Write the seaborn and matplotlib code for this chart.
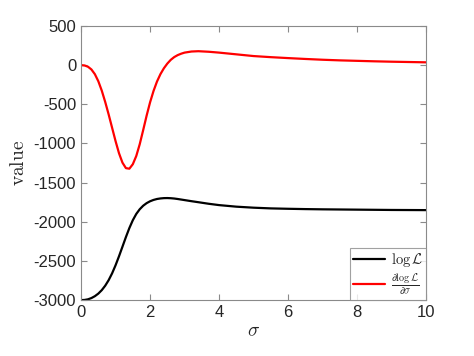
"""
Log-likelihood and its derivative against sigma, MATLAB-style figure.
"""

import matplotlib
matplotlib.use("Agg")
import matplotlib.pyplot as plt
import pandas as pd
import seaborn as sns

# Values
SIGMA = [0, 0.1, 0.2, 0.3, 0.4, 0.5, 0.6, 0.7, 0.8, 0.9,
         1.0, 1.1, 1.2, 1.3, 1.4, 1.5, 1.6, 1.7, 1.8, 1.9,
         2.0, 2.1, 2.2, 2.3, 2.4, 2.5, 2.6, 2.7, 2.8, 2.9,
         3.0, 3.2, 3.4, 3.7, 4.0, 4.5, 5.0, 5.5, 6.0, 6.5,
         7.0, 7.5, 8.0, 8.5, 9.0, 9.5, 10.0]
LOG_L = [-3000, -2998, -2990, -2974, -2950, -2917, -2873, -2816, -2745, -2658,
         -2555, -2440, -2318, -2195, -2080, -1980, -1900, -1840, -1795, -1762,
         -1738, -1721, -1709, -1702, -1698, -1697, -1699, -1703, -1709, -1716,
         -1723, -1737, -1750, -1770, -1787, -1807, -1820, -1829, -1834, -1838,
         -1841, -1843, -1845, -1847, -1849, -1850, -1851]
DLOG_L = [0, -4, -20, -55, -115, -205, -325, -470, -630, -800,
          -970, -1125, -1245, -1315, -1322, -1265, -1160, -1010, -830, -645,
          -475, -330, -210, -115, -40, 20, 68, 103, 128, 146,
          160, 174, 178, 171, 160, 138, 116, 102, 90, 79,
          69, 61, 55, 49, 44, 40, 36]

SERIES = [r"$\log\mathcal{L}$", r"$\frac{\partial\log\mathcal{L}}{\partial\sigma}$"]
COLORS = ["black", "red"]
X_TICKS = [0, 2, 4, 6, 8, 10]
Y_TICKS = [-3000, -2500, -2000, -1500, -1000, -500, 0, 500]


if __name__ == "__main__":

    sns.set_style("ticks")
    plt.rcParams["font.family"] = ["Liberation Sans", "DejaVu Sans"]
    plt.rcParams["mathtext.fontset"] = "cm"
    plt.rcParams["axes.unicode_minus"] = False

    df = pd.DataFrame({
        "sigma": SIGMA * 2,
        "value": LOG_L + DLOG_L,
        "series": [SERIES[0]] * len(SIGMA) + [SERIES[1]] * len(SIGMA),
    })

    fig = plt.figure(figsize=(4.74, 3.56), dpi=100)
    ax = fig.add_axes([0.171, 0.157, 0.728, 0.770])

    sns.lineplot(
        x="sigma",
        y="value",
        hue="series",
        hue_order=SERIES,
        palette=COLORS,
        data=df,
        estimator=None,
        linewidth=1.6,
        ax=ax,
    )

    ax.set_xlim(0, 10)
    ax.set_ylim(-3000, 500)
    ax.set_xticks(X_TICKS)
    ax.set_yticks(Y_TICKS)
    ax.set_xlabel(r"$\sigma$", fontsize=14, labelpad=2)
    ax.set_ylabel(r"$\mathrm{value}$", fontsize=14, labelpad=4)

    for spine in ax.spines.values():
        spine.set_visible(True)
        spine.set_color("#8a8a8a")
        spine.set_linewidth(0.8)
    ax.tick_params(direction="in", length=4, width=0.8, color="#8a8a8a",
                   labelsize=12, labelcolor="#262626", top=True, right=True)

    leg = ax.legend(loc="lower right", fontsize=10.5, frameon=True, fancybox=False,
                    borderaxespad=0, handlelength=2.2, borderpad=0.2,
                    labelspacing=0.15, handletextpad=0.4)
    leg.get_frame().set_edgecolor("#8a8a8a")
    leg.get_frame().set_linewidth(0.8)

    fig.savefig("out.png", dpi=100)
